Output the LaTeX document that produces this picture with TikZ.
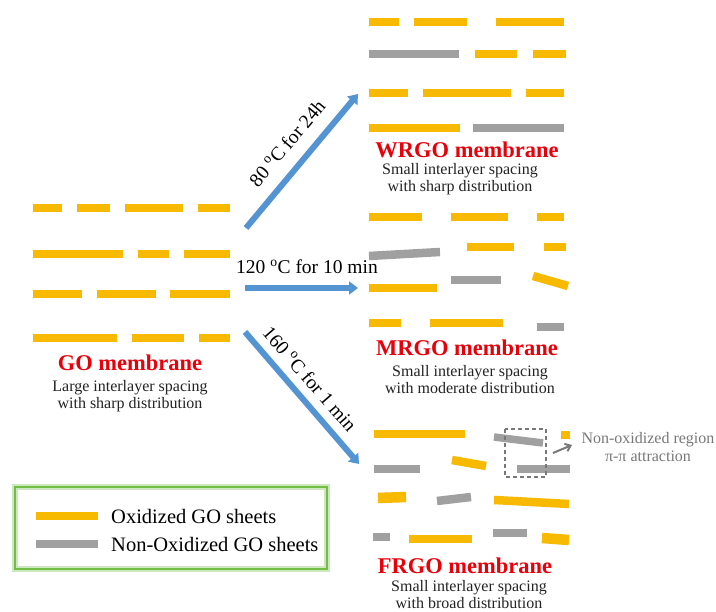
\documentclass[tikz,border=0pt]{standalone}
\usepackage{fontspec}
\setmainfont{Liberation Serif}
\usetikzlibrary{arrows.meta}
\definecolor{oxy}{RGB}{247,186,0}
\definecolor{noxy}{RGB}{160,160,160}
\definecolor{titred}{RGB}{232,0,10}
\definecolor{arrblue}{RGB}{84,148,210}
\definecolor{legreen}{RGB}{112,190,70}
\definecolor{subtxt}{RGB}{35,35,35}
\definecolor{notegray}{RGB}{120,120,120}
\tikzset{
  ox/.style={draw=oxy,line width=8.5pt},
  nox/.style={draw=noxy,line width=8.5pt},
  memtitle/.style={text=titred,font=\fontsize{22.5}{26}\selectfont\bfseries,inner sep=0pt},
  memsub/.style={text=subtxt,font=\fontsize{16}{17}\selectfont,align=center,inner sep=0pt},
  heatarrow/.style={draw=arrblue,line width=6pt,-{Triangle[width=13pt,length=9pt]}},
  heatlabel/.style={font=\fontsize{19.5}{21}\selectfont,inner sep=0pt},
  legtext/.style={font=\fontsize{20.5}{23}\selectfont,anchor=west,inner sep=0pt},
}
\begin{document}
\begin{tikzpicture}[x=1pt,y=-1pt]
\useasboundingbox[fill=white] (0,0) rectangle (716,612);

% ---------------- GO membrane ----------------
\draw[ox] (33,208)--(62,208);  \draw[ox] (77,208)--(110,208);
\draw[ox] (125,208)--(183,208); \draw[ox] (198,208)--(230,208);
\draw[ox] (33,254)--(123,254); \draw[ox] (138,254)--(169,254); \draw[ox] (184,254)--(230,254);
\draw[ox] (33,294)--(82,294);  \draw[ox] (97,294)--(156,294);  \draw[ox] (170,294)--(230,294);
\draw[ox] (33,338)--(117,338); \draw[ox] (132,338)--(184,338); \draw[ox] (199,338)--(230,338);
\node[memtitle] (go) at (130,363) {GO membrane};
\node[memsub] (gosub) at (130,396) {Large interlayer spacing\\with sharp distribution};

% ---------------- WRGO membrane ----------------
\draw[ox] (369,22)--(399,22); \draw[ox] (414,22)--(467,22); \draw[ox] (496,22)--(564,22);
\draw[nox] (369,54)--(459,54); \draw[ox] (475,54)--(517,54); \draw[ox] (533,54)--(566,54);
\draw[ox] (369,93)--(408,93); \draw[ox] (423,93)--(511,93); \draw[ox] (526,93)--(564,93);
\draw[ox] (369,128)--(460,128); \draw[nox] (473,128)--(564,128);
\node[memtitle] (wrgo) at (467,150) {WRGO membrane};
\node[memsub] (wrgosub) at (460,179) {Small interlayer spacing\\with sharp distribution};

% ---------------- MRGO membrane ----------------
\draw[ox] (369,217)--(422,217); \draw[ox] (451,217)--(508,217); \draw[ox] (537,217)--(564,217);
\draw[nox] (369,256)--(440,252); \draw[ox] (467,247)--(514,247); \draw[ox] (544,247)--(566,247);
\draw[ox] (369,288)--(437,288); \draw[nox] (451,280)--(501,280); \draw[ox] (533,276)--(568,286);
\draw[ox] (369,323)--(401,323); \draw[ox] (430,323)--(503,323); \draw[nox] (537,327)--(564,327);
\node[memtitle] (mrgo) at (467,348) {MRGO membrane};
\node[memsub] (mrgosub) at (470,380) {Small interlayer spacing\\with moderate distribution};

% ---------------- FRGO membrane ----------------
\draw[ox] (374,434)--(465,434); \draw[nox,line width=7.5pt] (494,437)--(543,443); \draw[ox,line width=7.5pt] (561,435)--(570,435);
\draw[nox] (374,469)--(420,469); \draw[ox] (452,460)--(486,466); \draw[nox] (517,469)--(570,469);
\draw[ox,line width=10.5pt] (378,498)--(406,497); \draw[nox] (437,501)--(471,497); \draw[ox] (494,500)--(569,504);
\draw[nox] (373,537)--(390,537); \draw[ox] (409,539)--(472,539); \draw[nox] (493,533)--(527,533); \draw[ox,line width=10.5pt] (542,538)--(569,540);
\node[memtitle] (frgo) at (465,566) {FRGO membrane};
\node[memsub] (frgosub) at (469,595) {Small interlayer spacing\\with broad distribution};

% non-oxidized region annotation
\draw[notegray,dashed,line width=1.2pt,dash pattern=on 4pt off 3pt] (505,429) rectangle (546,477);
\coordinate (nrs) at (553,453);
\coordinate (nre) at (572,445);
\draw[notegray,line width=2pt,-{Straight Barb[length=5pt,width=8pt]}] (nrs) -- (nre);
\node[memsub,text=notegray,font=\fontsize{16}{18}\selectfont] (note) at (648,447) {Non-oxidized region\\π-π attraction};

% ---------------- heating arrows ----------------
\coordinate (a1s) at (246,228); \coordinate (a1e) at (358,94);
\coordinate (a2s) at (245,288); \coordinate (a2e) at (358,288);
\coordinate (a3s) at (245,332); \coordinate (a3e) at (359,464);
\draw[heatarrow] (a1s) -- (a1e);
\draw[heatarrow] (a2s) -- (a2e);
\draw[heatarrow] (a3s) -- (a3e);
\node[heatlabel,rotate=50] (l1) at (287,143) {80 \textsuperscript{o}C for 24h};
\node[heatlabel] (l2) at (307,267) {120 \textsuperscript{o}C for 10 min};
\node[heatlabel,rotate=-49] (l3) at (310,379) {160 \textsuperscript{o}C for 1 min};

% ---------------- legend ----------------
\draw[draw=legreen!35,line width=6pt] (15,487) rectangle (327,569);
\draw[draw=legreen,line width=2.5pt] (15,487) rectangle (327,569);
\draw[ox,line width=8pt] (36,516)--(98,516);
\draw[nox,line width=8pt] (36,544)--(98,544);
\node[legtext] (lgox) at (111,516) {Oxidized GO sheets};
\node[legtext] (lgnox) at (111,544) {Non-Oxidized GO sheets};
\end{tikzpicture}
\end{document}
